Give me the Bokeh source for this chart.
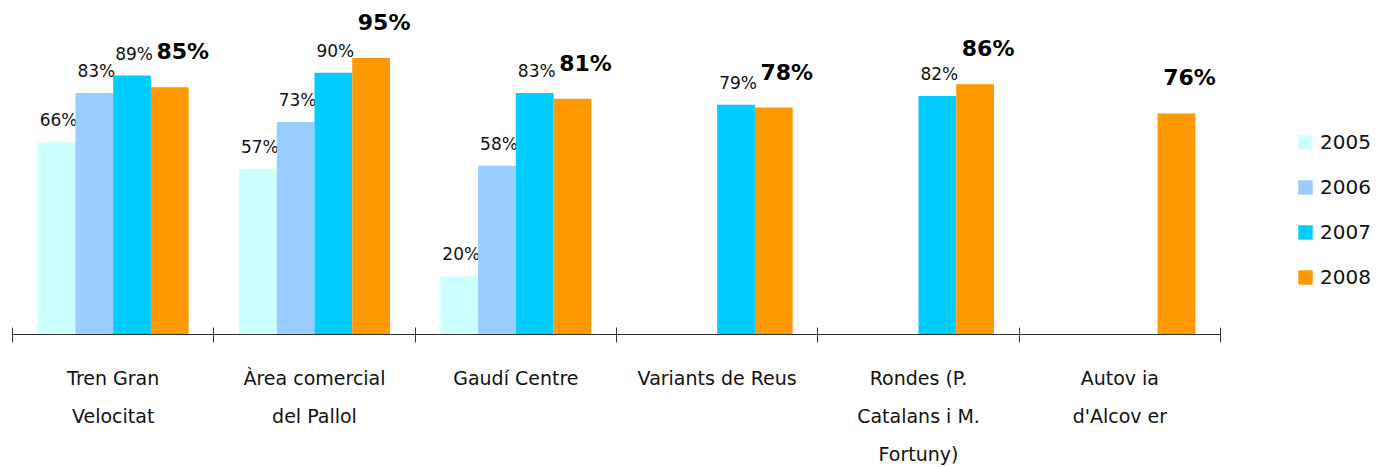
from bokeh.plotting import figure
from bokeh.models import ColumnDataSource, FixedTicker, Legend, LegendItem, Range1d
from bokeh.core.properties import value
from bokeh.embed import file_html
from bokeh.resources import INLINE

categories = ["Tren Gran\nVelocitat", "Àrea comercial\ndel Pallol", "Gaudí Centre",
              "Variants de Reus", "Rondes (P.\nCatalans i M.\nFortuny)", "Autov ia\nd'Alcov er"]
years = ["2005", "2006", "2007", "2008"]
v2005 = [66, 57, 20, None, None, None]
v2006 = [83, 73, 58, None, None, None]
v2007 = [89, 90, 83, 79, 82, None]
v2008 = [85, 95, 81, 78, 86, 76]
series = [v2005, v2006, v2007, v2008]
colors = ["#CCFFFF", "#99CCFF", "#00CCFF", "#FF9900"]

FONT = "DejaVu Sans"
n = len(categories)
bw = 0.75 / len(years)

W, H = 1376, 467
LEFT = 12
GROUP_PX = 1208 / n          # pixel width of one category group
x_end = (W - LEFT) / GROUP_PX  # extra room on the right holds the legend

p = figure(width=W, height=H, x_range=Range1d(0, x_end), y_range=Range1d(0, 114.8),
           output_backend="svg", toolbar_location=None,
           min_border_left=LEFT, min_border_top=0, min_border_right=0, min_border_bottom=10)
p.background_fill_color = "white"
p.border_fill_color = "white"
p.outline_line_color = None
p.xgrid.visible = False
p.ygrid.visible = False
p.yaxis.visible = False

items = []
for k, (yr, vals, col) in enumerate(zip(years, series, colors)):
    xs, tops, labels = [], [], []
    for i, v in enumerate(vals):
        if v is None:
            continue
        xs.append(i + 0.5 + (k - 1.5) * bw)
        tops.append(v)
        labels.append(f"{v}%")
    src = ColumnDataSource(dict(x=xs, top=tops, label=labels))
    r = p.vbar(x="x", top="top", bottom=0, width=bw, source=src,
               fill_color=col, line_color=None)
    items.append(LegendItem(label=yr, renderers=[r]))
    if k < 3:
        p.text(x="x", y="top", text="label", source=src, text_align="center",
               text_baseline="bottom", x_offset=2, y_offset=-12,
               text_font=value(FONT), text_font_size="17px", text_color="#111111")
    else:
        p.text(x="x", y="top", text="label", source=src, text_align="center",
               text_baseline="bottom", x_offset=13, y_offset=-23,
               text_font=value(FONT), text_font_size="22px", text_font_style="bold",
               text_color="#000000")

ax = p.xaxis[0]
ax.bounds = (0, n)
ax.ticker = FixedTicker(ticks=[i + 0.5 for i in range(n)], minor_ticks=list(range(n + 1)))
ax.major_label_overrides = {i + 0.5: c for i, c in enumerate(categories)}
ax.major_tick_line_color = None
ax.minor_tick_in = 7
ax.minor_tick_out = 8
ax.minor_tick_line_color = "#333333"
ax.axis_line_color = "#333333"
ax.major_label_text_font = FONT
ax.major_label_text_font_size = "19px"
ax.major_label_text_color = "#111111"
ax.major_label_text_line_height = 1.73
ax.major_label_standoff = 24

legend = Legend(items=items, location=(1284, 45), orientation="vertical",
                glyph_width=18, glyph_height=18, label_height=18, spacing=21,
                label_standoff=6, padding=0, margin=0,
                label_text_font=FONT, label_text_font_size="20px",
                label_text_color="#111111", border_line_color=None,
                background_fill_alpha=0)
p.add_layout(legend)

open("out.html", "w").write(file_html(p, INLINE))
